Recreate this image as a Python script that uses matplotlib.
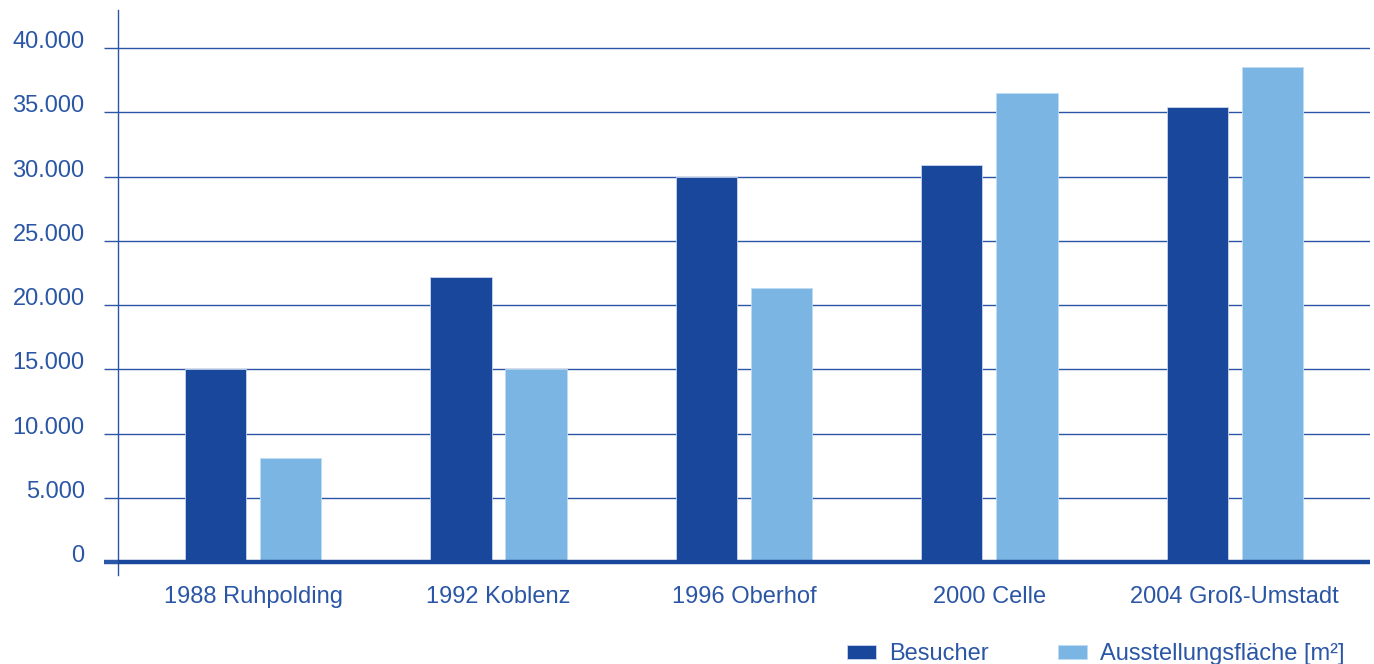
import matplotlib.pyplot as plt
import numpy as np
from matplotlib.ticker import FuncFormatter

# Data
orte = ['1988 Ruhpolding', '1992 Koblenz', '1996 Oberhof', '2000 Celle', '2004 Groß-Umstadt']
besucher = [15000, 22200, 30000, 30900, 35400]
flaeche = [8100, 15000, 21300, 36500, 38500]
y_ticks = [0, 5000, 10000, 15000, 20000, 25000, 30000, 35000, 40000]

dark = '#18479B'
light = '#7AB5E3'
line_col = '#2B55A6'
text_col = '#2A56A5'

plt.rcParams['font.family'] = ['Liberation Sans', 'DejaVu Sans']
plt.rcParams['font.size'] = 17

fig = plt.figure(figsize=(13.74, 6.64), dpi=100)
ax = fig.add_axes([0.0859, 0.134, 0.911, 0.851])

x = np.arange(len(orte))
w = 0.25
off = 0.153
ax.bar(x - off, besucher, w, color=dark, edgecolor='#c8d6ee', linewidth=0.6, label='Besucher', zorder=3)
ax.bar(x + off, flaeche, w, color=light, edgecolor='#c0dcf3', linewidth=0.6, label='Ausstellungsfläche [m²]', zorder=3)

ax.set_xlim(-0.55, 4.55)
ax.set_ylim(-1010, 42960)

ax.set_yticks(y_ticks)
ax.yaxis.set_major_formatter(FuncFormatter(lambda v, p: f'{int(v):,}'.replace(',', '.')))
ax.set_xticks(x)
ax.set_xticklabels(orte)

ax.yaxis.grid(True, color=line_col, linewidth=1.0, zorder=1)
ax.set_axisbelow(True)
ax.tick_params(axis='y', length=10, width=1.0, color=line_col, labelcolor=text_col, pad=14)
ax.tick_params(axis='x', length=0, labelcolor=text_col, pad=8)
for lab in ax.get_yticklabels():
    lab.set_va('baseline')

# thick zero line, including its tick to the left of the spine
ax.axhline(0, color=dark, linewidth=3.2, zorder=4)
ax.yaxis.get_major_ticks()[0].tick1line.set_markeredgewidth(3.2)
ax.yaxis.get_major_ticks()[0].tick1line.set_color(dark)

for s in ['top', 'right', 'bottom']:
    ax.spines[s].set_visible(False)
ax.spines['left'].set_color(line_col)
ax.spines['left'].set_linewidth(1.0)

leg = fig.legend(loc='lower right', bbox_to_anchor=(0.994, -0.034), ncol=2, frameon=False,
                 handlelength=1.25, handleheight=0.55, handletextpad=0.55, columnspacing=2.9)
for t in leg.get_texts():
    t.set_color(text_col)

fig.savefig('out.png', dpi=100)
